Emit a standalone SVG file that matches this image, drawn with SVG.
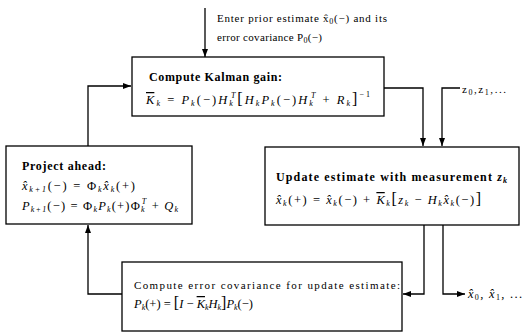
<svg xmlns="http://www.w3.org/2000/svg" width="524" height="334" viewBox="0 0 524 334">
<style>
.t{font-family:"Liberation Serif","DejaVu Serif",serif;font-size:11px;fill:#000}
.e{font-size:12.5px}
.b{font-weight:bold;font-size:12px}
.i{font-style:italic}
.s{font-size:8px}
.o{text-decoration:overline}
.box{fill:#fff;stroke:#000;stroke-width:1.3}
.ln{fill:none;stroke:#000;stroke-width:1.3;marker-end:url(#ah)}
</style>
<defs>
<marker id="ah" markerWidth="8" markerHeight="6" refX="8" refY="3" orient="auto" markerUnits="userSpaceOnUse">
<path d="M0,0 L8,3 L0,6 Z" fill="#000"/>
</marker>
</defs>
<rect width="524" height="334" fill="#fff"/>
<g id="connectors">
<path class="ln" d="M205,8 V57"/>
<path class="ln" d="M88,146 V86 H131"/>
<path class="ln" d="M384,88 H423 V146"/>
<path class="ln" d="M460,88 H442 V146"/>
<path class="ln" d="M424,225 V294 H403"/>
<path class="ln" d="M443,225 V294 H465"/>
<path class="ln" d="M122,294 H88 V225"/>
</g>
<g id="prior">
<text class="t" x="217" y="22" textLength="170" lengthAdjust="spacing">Enter prior estimate x̂<tspan class="s" dy="2">0</tspan><tspan dy="-2">(−) and its</tspan></text>
<text class="t" x="217" y="41" textLength="105" lengthAdjust="spacing">error covariance P<tspan class="s" dy="2">0</tspan><tspan dy="-2">(−)</tspan></text>
</g>
<g id="gain">
<rect class="box" x="132" y="57" width="252" height="59"/>
<text class="t b" x="149" y="81" textLength="133" lengthAdjust="spacing">Compute Kalman gain:</text>
<text class="t e" x="146" y="104" textLength="224" lengthAdjust="spacing"><tspan class="i o">K</tspan><tspan class="s i" dy="2">k</tspan><tspan dy="-2"> = </tspan><tspan class="i">P</tspan><tspan class="s i" dy="2">k</tspan><tspan dy="-2">(−)</tspan><tspan class="i">H</tspan><tspan class="s i" dy="2">k</tspan><tspan class="s i" dx="-4" dy="-8">T</tspan><tspan dy="6" font-size="16">[</tspan><tspan class="i">H</tspan><tspan class="s i" dy="2">k</tspan><tspan class="i" dy="-2">P</tspan><tspan class="s i" dy="2">k</tspan><tspan dy="-2">(−)</tspan><tspan class="i">H</tspan><tspan class="s i" dy="2">k</tspan><tspan class="s i" dx="-4" dy="-8">T</tspan><tspan dy="6"> + </tspan><tspan class="i">R</tspan><tspan class="s i" dy="2">k</tspan><tspan dy="-2" font-size="16">]</tspan><tspan class="s" dy="-7">−1</tspan></text>
</g>
<g id="update">
<rect class="box" x="265" y="147" width="254" height="78"/>
<text class="t b" x="276" y="181" textLength="231" lengthAdjust="spacing">Update estimate with measurement <tspan class="i">z</tspan><tspan class="s i" dy="2">k</tspan></text>
<text class="t e" x="276" y="204" textLength="205" lengthAdjust="spacing"><tspan class="i">x̂</tspan><tspan class="s i" dy="2">k</tspan><tspan dy="-2">(+) = </tspan><tspan class="i">x̂</tspan><tspan class="s i" dy="2">k</tspan><tspan dy="-2">(−) + </tspan><tspan class="i o">K</tspan><tspan class="s i" dy="2">k</tspan><tspan dy="-2" font-size="16">[</tspan><tspan class="i">z</tspan><tspan class="s i" dy="2">k</tspan><tspan dy="-2"> − </tspan><tspan class="i">H</tspan><tspan class="s i" dy="2">k</tspan><tspan class="i" dy="-2">x̂</tspan><tspan class="s i" dy="2">k</tspan><tspan dy="-2">(−)</tspan><tspan font-size="16">]</tspan></text>
</g>
<g id="project">
<rect class="box" x="6" y="146" width="186" height="78"/>
<text class="t b" x="22" y="170" textLength="84" lengthAdjust="spacing">Project ahead:</text>
<text class="t e" x="22" y="190" textLength="113" lengthAdjust="spacing"><tspan class="i">x̂</tspan><tspan class="s i" dy="2">k+1</tspan><tspan dy="-2">(−) = Φ</tspan><tspan class="s i" dy="2">k</tspan><tspan class="i" dy="-2">x̂</tspan><tspan class="s i" dy="2">k</tspan><tspan dy="-2">(+)</tspan></text>
<text class="t e" x="22" y="210" textLength="156" lengthAdjust="spacing"><tspan class="i">P</tspan><tspan class="s i" dy="2">k+1</tspan><tspan dy="-2">(−) = Φ</tspan><tspan class="s i" dy="2">k</tspan><tspan class="i" dy="-2">P</tspan><tspan class="s i" dy="2">k</tspan><tspan dy="-2">(+)Φ</tspan><tspan class="s i" dy="2">k</tspan><tspan class="s i" dx="-4" dy="-8">T</tspan><tspan dy="6"> + </tspan><tspan class="i">Q</tspan><tspan class="s i" dy="2">k</tspan></text>
</g>
<g id="covariance">
<rect class="box" x="122" y="262" width="280" height="69"/>
<text class="t" x="134" y="289" textLength="266" lengthAdjust="spacing">Compute error covariance for update estimate:</text>
<text class="t e" x="134" y="308" textLength="119" lengthAdjust="spacing"><tspan class="i">P</tspan><tspan class="s i" dy="2">k</tspan><tspan dy="-2">(+) = </tspan><tspan font-size="16">[</tspan><tspan class="i">I</tspan><tspan> − </tspan><tspan class="i o">K</tspan><tspan class="s i" dy="2">k</tspan><tspan class="i" dy="-2">H</tspan><tspan class="s i" dy="2">k</tspan><tspan dy="-2" font-size="16">]</tspan><tspan class="i">P</tspan><tspan class="s i" dy="2">k</tspan><tspan dy="-2">(−)</tspan></text>
</g>
<g id="measurements">
<text class="t" x="462" y="93" textLength="44" lengthAdjust="spacing">z<tspan class="s" dy="2">0</tspan><tspan dy="-2">,z</tspan><tspan class="s" dy="2">1</tspan><tspan dy="-2">,...</tspan></text>
</g>
<g id="output">
<text class="t e" x="468" y="298" textLength="54" lengthAdjust="spacing"><tspan class="i">x̂</tspan><tspan class="s" dy="2">0</tspan><tspan dy="-2">, </tspan><tspan class="i">x̂</tspan><tspan class="s" dy="2">1</tspan><tspan dy="-2">, ...</tspan></text>
</g>
</svg>
